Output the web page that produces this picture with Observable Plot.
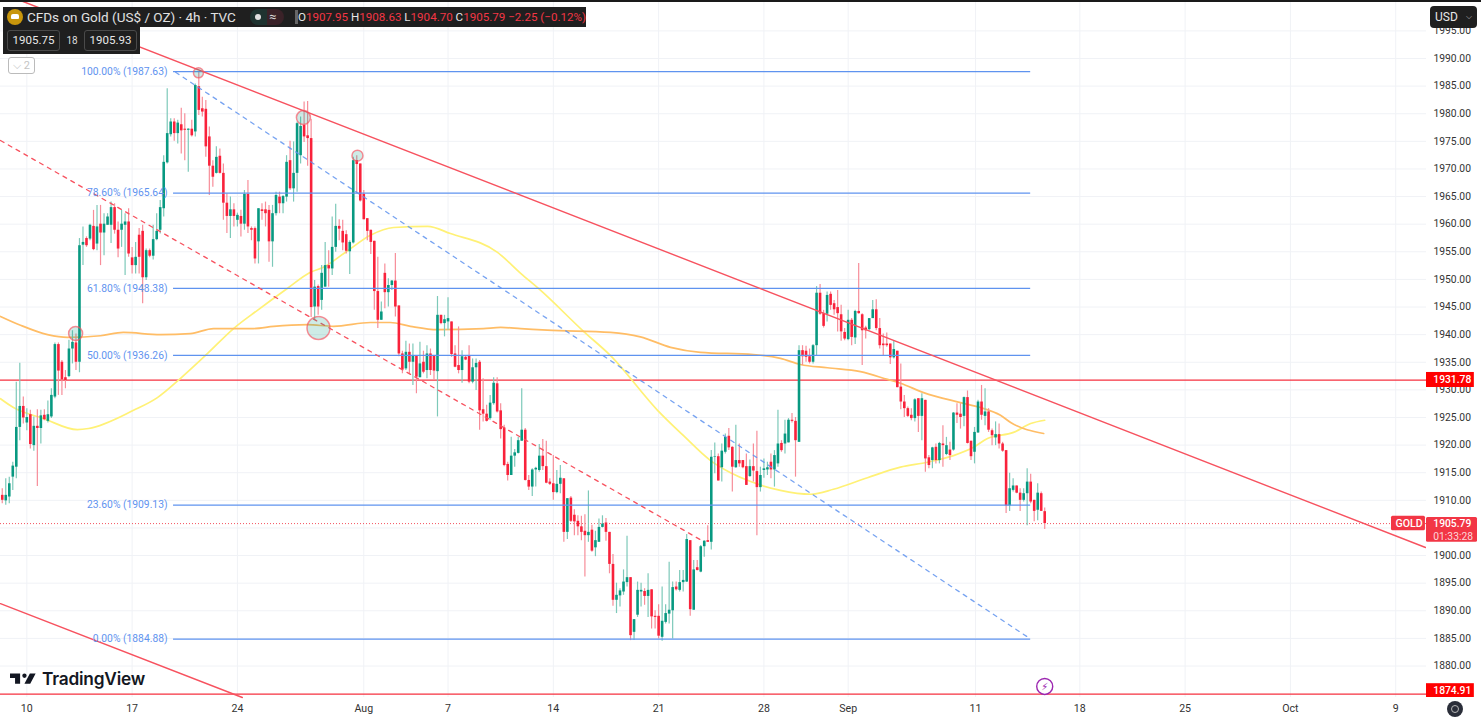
<!DOCTYPE html>
<html>
<head>
<meta charset="utf-8">
<script src="https://cdn.jsdelivr.net/npm/d3@7"></script>
<script src="https://cdn.jsdelivr.net/npm/@observablehq/plot@0.6"></script>
<style>
html,body{margin:0;padding:0;background:#fff;overflow:hidden;width:1481px;height:721px;font-family:Roboto,sans-serif}
#chart{position:absolute;left:0;top:0}
#chart svg{display:block}
.ov{position:absolute;box-sizing:border-box;white-space:nowrap}
.dark{background:#1f1f1f;color:#e6e6e6}
.box{border:1px solid #4a4a4a;border-radius:3px;text-align:center;font-size:11.5px;line-height:19px;color:#e8e8e8;height:21px}
.r{color:#f23645}
</style>
</head>
<body>
<div id="chart"></div>
<div class="ov" style="left:0;top:0;width:1481px;height:1.5px;background:#1a1a1a"></div>
<div class="ov dark" style="left:3px;top:7px;width:137px;height:47px"></div>
<div class="ov dark" style="left:3px;top:7px;width:583px;height:20px"></div>
<div class="ov" style="left:7px;top:9px;width:16px;height:16px;border-radius:50%;background:#c8960c"></div>
<div class="ov" style="left:11px;top:14px;width:8px;height:5px;border-radius:2px 2px 1px 1px;background:#fff"></div>
<div class="ov" style="left:27px;top:8px;font-size:13.5px;line-height:18px;color:#e2e2e2">CFDs on Gold (US$ / OZ) · 4h · TVC</div>
<div class="ov" style="left:250px;top:9px;width:17px;height:16px;background:#1f3330;border-radius:8px 0 0 8px"></div>
<div class="ov" style="left:267px;top:9px;width:17px;height:16px;background:#3a2228;border-radius:0 8px 8px 0"></div>
<div class="ov" style="left:255px;top:14px;width:6px;height:6px;border-radius:50%;background:#e0e0e0"></div>
<div class="ov" style="left:269px;top:8px;font-size:13px;line-height:18px;color:#d8d8d8">≈</div>
<div class="ov" style="left:295px;top:10px;width:3px;height:14px;background:#666"></div>
<div class="ov" style="left:298px;top:9px;font-size:11.6px;line-height:16px;color:#e6e6e6">O<span class="r">1907.95</span> H<span class="r">1908.63</span> L<span class="r">1904.70</span> C<span class="r">1905.79</span> <span class="r">−2.25 (−0.12%)</span></div>
<div class="ov box" style="left:7px;top:30px;width:53px">1905.75</div>
<div class="ov" style="left:64px;top:33px;width:16px;text-align:center;font-size:10px;line-height:15px;color:#ddd">18</div>
<div class="ov box" style="left:84px;top:30px;width:53px">1905.93</div>
<div class="ov" style="left:8px;top:57px;width:27px;height:17px;background:#fff;border:1px solid #bbb;border-radius:3px;color:#c4c4c4;font-size:11px;line-height:15px;text-align:center">⌵ 2</div>
<div class="ov" style="left:1430px;top:6px;width:47px;height:22px;background:#1f1f1f;border-radius:4px;color:#e8e8e8;font-size:12px;line-height:22px;padding-left:5px">USD<span style="position:absolute;right:5px;top:0;font-size:8px;color:#bbb">⌵</span></div>
<svg class="ov" style="left:10px;top:672px" width="26" height="14" viewBox="0 6 36 15"><path fill="#131722" d="M14 6H0v6h7v8h7V6zM28 20h-8l7.5-14h8L28 20z"/><circle fill="#131722" cx="20" cy="9" r="3"/></svg>
<div class="ov" style="left:42px;top:666px;font-family:Inter,sans-serif;font-weight:600;font-size:17.3px;line-height:26px;color:#131722;letter-spacing:-.2px">TradingView</div>
<div class="ov" style="left:1447px;top:701px;width:16px;height:16px;border-radius:50%;background:#2a2e39"></div>
<div class="ov" style="left:1451px;top:705px;width:8px;height:8px;border-radius:50%;border:1.5px solid #b8b8b8"></div>
<script>
// Candles are [open, high, low, close], grouped by the stretch of bars between date ticks.
const barsToJul17 = [
[1910.9,1912.1,1909.4,1910.0],[1909.9,1913.9,1909.1,1910.9],[1910.6,1914.2,1909.4,1913.0],[1914.2,1916.9,1911.8,1916.2],
[1916.0,1931.4,1913.9,1923.2],[1923.2,1934.8,1920.8,1927.0],[1927.0,1928.7,1923.8,1924.9],[1924.0,1926.6,1922.6,1925.0],
[1925.5,1926.3,1919.3,1920.1],[1919.9,1925.1,1918.9,1923.4],[1923.4,1926.4,1912.5,1923.0],[1923.0,1926.3,1920.2,1925.3],
[1925.4,1926.4,1924.4,1924.6],[1924.3,1928.0,1924.0,1925.5],[1925.1,1930.2,1924.8,1929.0],[1928.7,1938.5,1928.4,1938.2],
[1938.2,1938.5,1929.0,1933.4],[1935.0,1935.3,1929.0,1931.8],[1932.2,1933.5,1930.2,1931.7],[1932.4,1939.0,1932.2,1937.4],
[1937.4,1940.7,1934.7,1938.6],[1938.5,1940.1,1933.5,1935.0],[1935.0,1957.4,1933.1,1956.1],[1956.2,1959.5,1952.5,1956.7],
[1957.4,1957.7,1955.8,1956.1],[1957.3,1960.0,1957.0,1959.8],[1959.6,1962.5,1955.2,1955.4],[1956.4,1963.4,1955.2,1959.5],
[1960.0,1963.4,1952.5,1958.4],[1958.4,1961.9,1954.3,1960.0],[1959.8,1961.9,1959.8,1961.3],[1959.8,1964.0,1956.5,1963.0],
[1963.0,1963.7,1958.2,1958.9],[1958.9,1960.4,1953.9,1955.5],[1958.9,1962.5,1955.8,1960.0],[1959.8,1961.9,1950.7,1960.4],
[1960.4,1962.8,1954.0,1954.6]];
const barsToJul24 = [
[1953.9,1955.8,1951.0,1952.5],[1952.5,1956.7,1951.0,1954.0],[1958.0,1959.2,1951.0,1954.0],[1958.7,1959.8,1945.6,1950.3],
[1950.3,1955.5,1949.8,1955.2],[1955.2,1955.5,1953.9,1954.2],[1954.2,1959.8,1953.5,1957.2],[1957.2,1961.9,1957.0,1958.7],
[1958.9,1964.3,1958.2,1963.0],[1962.8,1972.4,1961.3,1971.2],[1971.1,1984.5,1970.9,1976.4],[1976.2,1979.1,1975.8,1978.5],
[1978.5,1979.1,1975.0,1976.4],[1976.4,1978.8,1974.5,1978.3],[1978.0,1981.0,1972.7,1976.9],[1977.2,1980.0,1971.5,1977.0],
[1977.0,1977.3,1969.4,1977.2],[1977.2,1978.8,1975.8,1976.0],[1976.7,1985.4,1975.8,1985.1],[1984.9,1987.5,1979.7,1980.6],
[1980.9,1983.0,1979.4,1980.3],[1980.8,1982.4,1972.1,1974.0],[1975.8,1977.6,1965.2,1970.5],[1970.5,1971.5,1966.7,1968.5],
[1969.2,1974.0,1969.1,1972.1],[1972.3,1973.6,1969.1,1969.2],[1969.2,1970.9,1960.7,1963.8],[1963.8,1965.5,1958.3,1961.4],
[1961.4,1964.9,1957.4,1962.6],[1962.6,1963.7,1959.5,1961.4]];
const barsToAug1 = [
[1960.7,1962.0,1959.5,1961.6],[1961.4,1962.5,1957.7,1960.0],[1960.0,1966.1,1958.9,1965.4],[1965.4,1967.9,1958.3,1959.5],
[1959.2,1959.5,1957.0,1958.9],[1959.2,1959.5,1952.8,1953.7],[1956.8,1962.8,1952.8,1962.8],[1962.6,1963.7,1960.7,1962.3],
[1962.6,1964.0,1959.5,1961.9],[1962.5,1963.4,1953.1,1956.8],[1956.8,1963.4,1952.2,1961.9],[1961.9,1965.8,1961.5,1965.2],
[1964.9,1965.8,1961.9,1963.7],[1963.7,1965.2,1961.9,1965.0],[1964.9,1972.4,1964.0,1971.2],[1971.5,1975.0,1966.1,1966.4],
[1966.4,1974.9,1964.0,1969.2],[1969.2,1978.5,1965.8,1978.2],[1972.4,1979.4,1970.9,1977.7],[1977.9,1982.1,1974.8,1975.8],
[1976.0,1982.2,1970.5,1975.5],[1975.5,1979.0,1943.1,1944.9],[1945.0,1949.8,1942.6,1948.6],[1948.7,1949.0,1943.5,1945.0],
[1946.2,1952.5,1944.4,1951.1],[1948.6,1956.7,1948.6,1952.5],[1952.5,1955.2,1948.6,1951.9],[1951.9,1961.3,1950.7,1955.8],
[1955.8,1963.6,1954.9,1959.6],[1959.6,1960.8,1957.0,1959.1],[1958.7,1960.7,1955.2,1956.6],[1958.1,1958.8,1954.6,1955.1],
[1955.0,1957.0,1950.9,1956.7],[1956.6,1972.1,1956.4,1971.5],[1971.5,1972.4,1965.5,1970.8],[1970.9,1970.9,1964.0,1964.2]];
const barsToAug7 = [
[1965.4,1966.1,1960.8,1960.8],[1961.0,1961.0,1957.0,1958.7],[1958.9,1958.9,1954.5,1956.7],[1956.9,1956.9,1944.4,1947.8],
[1947.8,1954.0,1941.1,1942.6],[1942.6,1945.9,1942.6,1944.1],[1951.1,1952.8,1944.7,1947.6],[1947.6,1950.1,1945.0,1948.9],
[1948.9,1949.8,1948.0,1949.7],[1949.7,1954.7,1943.2,1945.0],[1945.2,1945.2,1936.0,1936.5],[1936.5,1937.0,1932.9,1933.6],
[1933.8,1938.8,1933.5,1936.8],[1936.8,1938.3,1932.9,1935.0],[1935.0,1938.3,1930.8,1936.2],[1936.2,1936.2,1929.3,1932.3],
[1932.2,1938.6,1932.2,1934.7],[1935.0,1937.0,1932.9,1933.2],[1933.5,1938.0,1932.0,1936.5],[1936.5,1937.4,1932.6,1933.5],
[1936.2,1936.2,1931.8,1933.4],[1933.3,1946.9,1925.1,1943.5],[1943.5,1943.5,1941.8,1942.0],[1942.0,1943.5,1939.6,1942.7]];
const barsToAug14 = [
[1942.3,1946.7,1940.8,1942.9],[1942.3,1942.3,1935.9,1936.4],[1936.5,1938.0,1934.0,1934.1],[1934.4,1941.4,1932.9,1933.5],
[1933.5,1937.1,1931.2,1936.0],[1935.9,1936.2,1935.3,1935.4],[1936.1,1938.0,1931.1,1931.4],[1931.4,1935.6,1931.1,1934.0],
[1934.0,1935.6,1929.9,1934.8],[1935.0,1935.3,1922.7,1926.2],[1926.4,1932.0,1924.2,1925.6],[1925.6,1927.2,1924.2,1924.3],
[1924.8,1929.0,1924.5,1927.6],[1927.5,1932.2,1927.2,1931.2],[1931.1,1932.2,1925.8,1926.0],[1926.2,1927.5,1921.1,1922.8],
[1923.1,1923.6,1916.1,1916.3],[1916.5,1916.9,1913.5,1914.5],[1914.5,1921.4,1914.5,1918.0],[1918.0,1919.2,1916.0,1918.6],
[1918.5,1921.4,1918.4,1920.8],[1920.7,1930.2,1920.7,1922.7],[1922.7,1923.0,1913.5,1913.6],[1913.6,1914.5,1911.8,1912.4],
[1912.4,1915.7,1910.7,1915.5],[1915.5,1916.0,1912.4,1915.8],[1915.4,1920.1,1915.1,1918.0],[1918.0,1921.0,1915.4,1916.1],
[1916.1,1920.7,1913.0,1913.1],[1913.3,1913.9,1912.7,1912.9]];
const barsToAug21 = [
[1913.0,1918.1,1910.0,1911.4],[1911.4,1915.4,1911.2,1912.9],[1912.9,1916.3,1911.2,1914.0],[1913.9,1913.9,1902.4,1904.2],
[1904.2,1910.3,1902.9,1910.3],[1910.4,1910.7,1906.0,1906.2],[1907.3,1908.3,1903.6,1906.1],[1906.2,1907.2,1903.6,1905.2],
[1905.2,1907.1,1902.7,1904.2],[1904.4,1907.4,1896.1,1903.6],[1903.6,1911.7,1902.4,1904.2],[1904.6,1905.5,1900.6,1900.8],
[1901.4,1904.4,1899.8,1902.7],[1902.4,1906.6,1902.4,1905.1],[1905.1,1907.2,1905.0,1905.7],[1905.9,1906.7,1902.6,1904.2],
[1904.2,1904.2,1896.7,1898.4],[1898.4,1900.2,1890.8,1891.9],[1891.9,1895.0,1889.5,1892.8],[1892.7,1894.0,1890.7,1893.6],
[1893.4,1897.4,1892.8,1895.2],[1895.1,1903.5,1894.3,1896.0],[1896.0,1896.0,1884.6,1885.5],[1886.1,1888.4,1884.6,1888.4],
[1889.2,1895.2,1888.8,1893.7],[1893.4,1895.0,1890.7,1893.7],[1893.5,1894.0,1891.0,1892.6],[1892.6,1896.7,1888.8,1893.7],
[1893.8,1893.8,1886.7,1888.9],[1889.0,1890.0,1886.7,1888.8]];
const barsToAug28 = [
[1889.0,1891.1,1884.9,1885.4],[1885.2,1894.3,1884.5,1888.1],[1887.9,1891.1,1887.6,1889.5],[1889.4,1898.8,1887.6,1890.1],
[1890.0,1895.2,1884.9,1894.2],[1894.3,1895.2,1893.6,1893.8],[1893.7,1897.3,1893.4,1895.1],[1895.1,1897.3,1893.4,1895.5],
[1895.2,1903.8,1895.1,1902.9],[1902.7,1902.7,1889.0,1890.2],[1890.1,1899.1,1890.1,1897.4],[1897.8,1899.1,1897.2,1897.3],
[1897.0,1901.8,1896.9,1901.6],[1901.6,1902.7,1899.7,1902.6],[1902.7,1905.4,1902.4,1902.4],[1902.4,1919.0,1901.0,1917.8],
[1917.8,1920.4,1914.8,1917.9],[1917.9,1918.4,1913.5,1913.5],[1915.9,1920.2,1913.3,1918.9],[1918.7,1922.0,1918.4,1921.4],
[1921.6,1923.0,1919.0,1919.5],[1919.6,1919.7,1911.5,1916.0],[1915.9,1923.6,1915.8,1917.2],[1917.2,1920.2,1916.0,1916.6],
[1917.2,1917.2,1915.7,1915.9],[1916.1,1918.4,1912.7,1912.7],[1914.3,1917.3,1914.2,1916.1],[1916.1,1920.2,1913.3,1915.3],
[1915.2,1922.5,1903.6,1912.3],[1912.3,1916.0,1911.5,1914.5]];
const barsToSep4 = [
[1915.4,1917.5,1914.0,1915.7],[1915.5,1916.9,1914.5,1915.9],[1916.9,1918.4,1913.9,1915.5],[1915.5,1919.0,1912.4,1918.1],
[1916.6,1926.3,1916.0,1920.2],[1920.3,1920.8,1918.7,1919.0],[1920.2,1924.5,1918.4,1922.0],[1920.4,1924.8,1920.4,1924.5],
[1924.5,1925.7,1924.0,1924.3],[1924.3,1925.0,1914.2,1920.8],[1920.5,1938.0,1920.5,1937.1],[1937.1,1938.0,1934.4,1936.0],
[1937.0,1937.9,1935.0,1935.9],[1936.0,1937.4,1934.7,1935.0],[1935.0,1938.2,1934.7,1938.0],[1938.0,1948.7,1936.2,1947.5],
[1947.5,1949.1,1943.5,1943.7],[1943.8,1944.4,1941.2,1941.5],[1943.7,1947.7,1942.3,1947.1],[1947.3,1947.7,1944.4,1945.3],
[1945.6,1946.2,1943.5,1944.5],[1944.9,1948.0,1940.5,1943.8],[1943.6,1945.3,1938.8,1940.5],[1940.4,1941.1,1938.9,1939.2],
[1939.1,1944.4,1938.9,1942.6],[1942.6,1942.9,1938.0,1939.5],[1939.4,1944.4,1938.2,1944.2],[1944.2,1952.9,1943.7,1943.8],
[1943.6,1943.8,1934.4,1940.7],[1941.2,1941.5,1939.2,1940.7]];
const barsToSep11 = [
[1940.9,1942.9,1940.7,1942.9],[1942.9,1946.2,1942.9,1944.5],[1944.5,1946.3,1940.7,1941.1],[1941.1,1942.9,1937.4,1938.0],
[1938.3,1940.1,1936.2,1938.0],[1938.3,1940.3,1937.7,1938.0],[1938.3,1938.3,1934.6,1935.8],[1935.8,1938.9,1935.6,1937.3],
[1937.0,1937.0,1930.4,1930.4],[1930.5,1934.7,1926.4,1927.8],[1927.8,1929.0,1925.0,1926.6],[1926.6,1926.9,1925.0,1925.2],
[1925.4,1926.6,1924.4,1924.8],[1924.8,1928.4,1924.2,1928.2],[1928.4,1928.4,1922.3,1925.2],[1925.2,1929.3,1920.8,1928.4],
[1928.1,1928.1,1915.1,1917.5],[1917.7,1918.1,1915.7,1916.3],[1917.2,1919.6,1915.7,1919.5],[1919.6,1920.2,1916.6,1917.2],
[1917.2,1920.5,1916.6,1920.3],[1920.2,1923.5,1916.0,1919.9],[1918.3,1921.4,1918.1,1919.9],[1919.1,1920.5,1917.2,1918.1],
[1919.1,1925.9,1918.9,1925.8],[1925.8,1927.5,1923.9,1925.4],[1925.6,1927.5,1922.9,1925.0],[1925.2,1928.7,1923.3,1928.6],
[1928.6,1929.8,1920.2,1920.3],[1920.7,1920.7,1917.2,1917.9]];
const barsLast = [
[1918.7,1923.2,1916.6,1922.3],[1922.2,1928.1,1922.1,1927.8],[1927.8,1930.8,1924.5,1925.4],[1925.2,1930.2,1923.5,1926.0],
[1926.0,1926.6,1922.3,1922.7],[1922.6,1922.9,1919.9,1921.7],[1921.3,1924.2,1919.9,1921.9],[1921.9,1923.8,1919.3,1920.2],
[1920.2,1920.5,1918.7,1918.9],[1919.0,1919.0,1907.6,1909.0],[1909.0,1914.9,1908.0,1912.1],[1911.8,1913.9,1911.5,1912.6],
[1912.6,1912.6,1911.2,1911.3],[1911.3,1912.1,1908.0,1910.0],[1910.0,1912.1,1909.7,1911.2],[1911.2,1915.7,1905.4,1913.3],
[1913.3,1914.7,1909.4,1909.7],[1910.0,1910.0,1906.1,1908.0],[1908.2,1913.0,1906.3,1911.3],[1911.2,1911.5,1908.0,1908.0],
[1907.95,1908.63,1904.70,1905.79]];

const yellowAverage = [[-0.5,1928.4],[3.2,1926.8],[11.8,1924.8],[21.4,1922.8],[24.6,1923],[37.4,1926.3],[44.2,1928.6],[50.8,1932.1],[58.5,1936.6],[65.9,1941.1],[72.7,1944.4],[81.3,1948.4],[87.8,1951.3],[91.5,1952.2],[98.4,1955.2],[104.9,1958],[111.5,1959.4],[121.2,1959.6],[127.7,1958.3],[141.1,1954.9],[147.7,1951.1],[153.4,1948],[165.6,1940.6],[173.3,1936.2],[186.7,1926.3],[194.1,1921.7],[201.8,1917.2],[207.5,1915],[213.2,1913.4],[221.7,1911.8],[230.3,1911.1],[236.8,1912],[246.5,1914.1],[255.9,1916],[263.6,1916.9],[271,1918.1],[276.7,1919.6],[280.7,1921.2],[288.1,1922.3],[293,1923.9],[297,1924.5]];
const orangeAverage = [[-0.5,1943.3],[5.2,1941.7],[12.9,1940],[18.6,1939.5],[28,1939.8],[34.5,1940.4],[45.1,1940],[53.6,1940.2],[60.2,1941.1],[71.6,1941.1],[77.3,1941.5],[87,1941.8],[94.4,1941.5],[104.9,1942.2],[110.6,1942.2],[116.3,1941.5],[124,1940.9],[137.1,1941.1],[142,1941.3],[147.7,1941.1],[155.3,1940.8],[173.3,1940.4],[181.8,1939.6],[190.4,1937.7],[198.9,1936.8],[214,1936.4],[221.7,1935.7],[227.4,1934.6],[235.1,1934],[244.5,1933.3],[252.2,1931.9],[255.9,1931.2],[262.5,1929.5],[273,1927.7],[278.7,1926.8],[284.4,1925.4],[287.3,1924.1],[296.7,1922.1]];

const fibLevels = [[100,1987.63],[78.6,1965.64],[61.8,1948.38],[50,1936.26],[23.6,1909.13],[0,1884.88]];
const fibStartBar = 48.8, fibEndBar = 293;
const fibDiagonal = [[49.4,1987.5],[293,1884.88]];
const upperTrend = [[5.2,2000.5],[405.5,1901.46]];
const midTrend = [[-0.5,1975.15],[199.8,1902.55]];
const lowerTrend = [[-0.5,1891.3],[68.4,1874.3]];
const touchDots = [[55.9,1987.4,5],[85.8,1979.3,7],[101.2,1972.4,5.5],[20.9,1940.2,7],[90.1,1941.2,11.5]];
const supportLevels = [1931.78,1874.91];
const lastPrice = 1905.79;
const priceTicks = [1880,1885,1890,1895,1900,1905,1910,1915,1920,1925,1930,1935,1940,1945,1950,1955,1960,1965,1970,1975,1980,1985,1990,1995];
const hiddenPriceTick = 1905; // sits behind the last-price tag
const dateTickBars = [7,37,67,103,127,157,187,217,241,277.3,307,337,367,397];
const dateTickLabels = ["10","17","24","Aug","7","14","21","28","Sep","11","18","25","Oct","9"];

const UP="#089981", DOWN="#f9223b", UPW="#7dc9b9", DOWNW="#f78d99", BLUE="#5f93ef", FONT="Roboto, sans-serif";
const candles = [barsToJul17,barsToJul24,barsToAug1,barsToAug7,barsToAug14,barsToAug21,barsToAug28,barsToSep4,barsToSep11,barsLast]
  .flat().map(([o,h,l,c],i)=>({i,o,h,l,c,up:c>=o}));
const pt = ([x,y])=>({x,y});
const axisEndBar = 405.77, tagEndBar = 419.4, lastTagEndBar = 420.3, tagTextBar = 407.7, goldStartBar = 395.8;
const barPerTick = new Map(dateTickBars.map((b,k)=>[b,dateTickLabels[k]]));

const chart = Plot.plot({
  width:1481, height:721, marginLeft:0, marginRight:55, marginTop:0, marginBottom:24,
  style:{background:"#fff",fontFamily:FONT},
  x:{domain:[-0.4986,axisEndBar],label:null},
  y:{domain:[1874.3,2000.5],label:null},
  r:{type:"identity"},
  marks:[
    Plot.gridX({ticks:dateTickBars,stroke:"#f0f2f6",strokeOpacity:1}),
    Plot.gridY({ticks:priceTicks,stroke:"#f0f2f6",strokeOpacity:1}),
    Plot.ruleY(supportLevels,{stroke:"#f6303f",strokeWidth:1.2}),
    Plot.ruleY([lastPrice],{stroke:"#f23645",strokeOpacity:.85,strokeWidth:1,strokeDasharray:"1 2"}),
    Plot.line(yellowAverage.map(pt),{x:"x",y:"y",stroke:"#fff176",strokeWidth:1.7,curve:"monotone-x"}),
    Plot.line(orangeAverage.map(pt),{x:"x",y:"y",stroke:"#ffbd66",strokeWidth:1.7,curve:"monotone-x"}),
    Plot.ruleX(candles,{x:"i",y1:"l",y2:"h",stroke:d=>d.up?UPW:DOWNW,strokeWidth:1.2}),
    Plot.ruleX(candles,{x:"i",y1:"o",y2:"c",stroke:d=>d.up?UP:DOWN,strokeWidth:2.6}),
    Plot.ruleY(fibLevels,{y:d=>d[1],x1:fibStartBar,x2:fibEndBar,stroke:BLUE,strokeWidth:1.2}),
    Plot.line(fibDiagonal.map(pt),{x:"x",y:"y",stroke:BLUE,strokeOpacity:.85,strokeWidth:1.3,strokeDasharray:"4 5"}),
    Plot.line(upperTrend.map(pt),{x:"x",y:"y",stroke:"#f7525f",strokeWidth:1.4,clip:true}),
    Plot.line(midTrend.map(pt),{x:"x",y:"y",stroke:"#f7525f",strokeWidth:1.3,strokeDasharray:"4 5",clip:true}),
    Plot.line(lowerTrend.map(pt),{x:"x",y:"y",stroke:"#f7525f",strokeWidth:1.4}),
    Plot.dot(touchDots,{x:d=>d[0],y:d=>d[1],r:d=>d[2],fill:"#089981",fillOpacity:.2,stroke:"#f7525f",strokeOpacity:.65,strokeWidth:1.5}),
    Plot.text(fibLevels,{x:()=>fibStartBar,y:d=>d[1],text:d=>`${d[0].toFixed(2)}% (${d[1].toFixed(2)})`,textAnchor:"end",dx:-6,fill:BLUE,fontSize:10.3,fontFamily:FONT}),
    Plot.axisY({anchor:"right",ticks:priceTicks.filter(t=>t!==hiddenPriceTick),tickFormat:d=>d.toFixed(2),tickSize:0,tickPadding:7,label:null,fill:"#333",fontSize:10.3,fontFamily:FONT}),
    Plot.axisX({ticks:dateTickBars,tickFormat:d=>barPerTick.get(d),tickSize:0,tickPadding:7,label:null,fill:"#333",fontSize:10.6,fontFamily:FONT}),
    Plot.rect([[1933.15,1930.43],[1876.8,1874.3]],{x1:axisEndBar,x2:tagEndBar,y1:d=>d[0],y2:d=>d[1],fill:"#ff0000"}),
    Plot.rect([[1906.9,1902.4]],{x1:axisEndBar,x2:lastTagEndBar,y1:d=>d[0],y2:d=>d[1],fill:"#f23645",rx:1.5}),
    Plot.rect([[1907.1,1904.5]],{x1:goldStartBar,x2:axisEndBar-0.3,y1:d=>d[0],y2:d=>d[1],fill:"#f23645",rx:1.5}),
    Plot.text(["1931.78"],{x:()=>tagTextBar,y:()=>1931.78,text:d=>d,textAnchor:"start",fill:"#fff",fontSize:10.3,fontWeight:500}),
    Plot.text(["1874.91"],{x:()=>tagTextBar,y:()=>1875.6,text:d=>d,textAnchor:"start",fill:"#fff",fontSize:10.3,fontWeight:500}),
    Plot.text(["1905.79"],{x:()=>tagTextBar,y:()=>lastPrice,text:d=>d,textAnchor:"start",fill:"#fff",fontSize:10.3,fontWeight:500}),
    Plot.text(["01:33:28"],{x:()=>tagTextBar,y:()=>1903.45,text:d=>d,textAnchor:"start",fill:"#fff",fillOpacity:.8,fontSize:10.3}),
    Plot.text(["GOLD"],{x:()=>(goldStartBar+axisEndBar)/2,y:()=>1905.8,text:d=>d,fill:"#fff",fontSize:10.6,fontWeight:500}),
    Plot.dot([[297,1876.3]],{x:d=>d[0],y:d=>d[1],r:()=>8,fill:"#fff",stroke:"#9c27b0",strokeWidth:1.4}),
    Plot.text(["⚡"],{x:()=>297,y:()=>1876.3,text:d=>d,fill:"#9c27b0",fontSize:10,fontFamily:"DejaVu Sans"})
  ]
});
document.getElementById("chart").appendChild(chart);
</script>
</body>
</html>
